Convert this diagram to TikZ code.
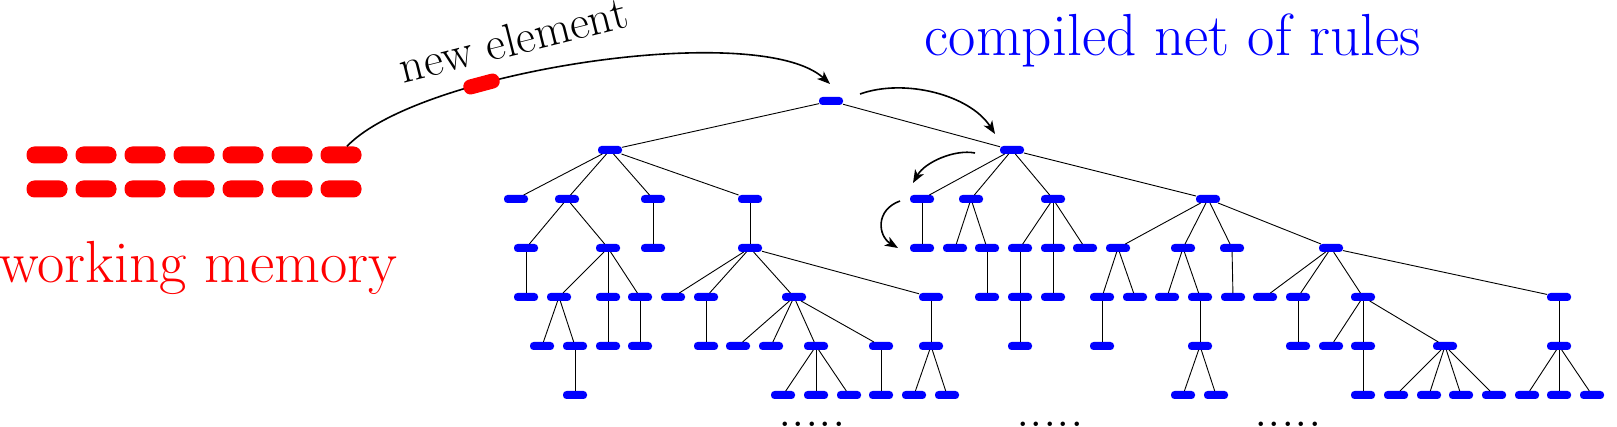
\documentclass[tikz,border=0pt]{standalone}
\usetikzlibrary{arrows.meta,calc}
\tikzset{
  tn/.style={fill=blue, draw=none, rounded corners=3.5pt, minimum width=24pt, minimum height=8pt, inner sep=0pt, outer sep=0pt},
  wm/.style={fill=red, draw=none, rounded corners=8pt, minimum width=41pt, minimum height=17pt, inner sep=0pt},
  tedge/.style={line width=0.9pt},
  flow/.style={line width=1.6pt, -{Stealth[length=13pt,width=10pt,inset=3.5pt]}},
  bigtext/.style={inner sep=0pt, font=\fontsize{59.4}{64}\selectfont},
  dotstext/.style={inner sep=0pt, font=\fontsize{54}{60}\selectfont},
}
\begin{document}
\begin{tikzpicture}[x=1pt,y=-1pt]
\useasboundingbox (0,0) rectangle (1617,427);
% working memory
\foreach \i/\x in {1/47,2/96,3/145,4/194,5/243,6/292,7/341}{
  \node[wm] (m\i) at (\x,155) {};
  \node[wm] (n\i) at (\x,189) {};
}
\node[bigtext, text=red, anchor=base west] (wmlabel) at (-1,283) {working memory};
\node[bigtext, text=blue, anchor=base west] (netlabel) at (924.5,56) {compiled net of rules};
\node[inner sep=0pt, font=\fontsize{47}{52}\selectfont, rotate=14, anchor=base] (newlabel) at (517,55) {new element};
% tree nodes
\node[tn] (r) at (831,101) {};
\foreach \n/\x in {a/610,b/1012}{\node[tn] (\n) at (\x,150) {};}
\foreach \n/\x in {a1/516,a2/567,a3/653,a4/750,b1/922,b2/971,b3/1053,b4/1208}{\node[tn] (\n) at (\x,199) {};}
\foreach \n/\x in {a21/526,a22/608,a31/653,a41/750,b11/922,b21/955,b22/987,b31/1020,b32/1053,b33/1085,b41/1118,b42/1183,b43/1232,b44/1331}{\node[tn] (\n) at (\x,248) {};}
\foreach \n/\x in {a211/526,a221/559,a222/608,a223/640,a411/673,a412/706,a413/794,a414/931,b221/987,b311/1020,b321/1053,b411/1102,b412/1135,b421/1167,b422/1200,b431/1233,b441/1265,b442/1298,b443/1363,b444/1559}{\node[tn] (\n) at (\x,297) {};}
\foreach \n/\x in {c1/542,c2/575,c3/608,c4/640,c5/706,c6/738,c7/771,c8/816,c9/881,c10/931,c11/1020,c12/1102,c13/1200,c14/1298,c15/1331,c16/1363,c17/1445,c18/1559}{\node[tn] (\n) at (\x,346) {};}
\foreach \n/\x in {d1/575,d2/783,d3/816,d4/849,d5/881,d6/914,d7/947,d8/1183,d9/1216,d10/1363,d11/1396,d12/1429,d13/1461,d14/1494,d15/1527,d16/1559,d17/1592}{\node[tn] (\n) at (\x,395) {};}
% tree edges
\foreach \p/\c in {r/a,r/b,a/a1,a/a2,a/a3,a/a4,b/b1,b/b2,b/b3,b/b4,
  a2/a21,a2/a22,a3/a31,a4/a41,b1/b11,b2/b21,b2/b22,b3/b31,b3/b32,b3/b33,b4/b41,b4/b42,b4/b43,b4/b44,
  a21/a211,a22/a221,a22/a222,a22/a223,a41/a411,a41/a412,a41/a413,a41/a414,
  b22/b221,b31/b311,b32/b321,b41/b411,b41/b412,b42/b421,b42/b422,b43/b431,b44/b441,b44/b442,b44/b443,b44/b444,
  a221/c1,a221/c2,a222/c3,a223/c4,a412/c5,a413/c6,a413/c7,a413/c8,a413/c9,a414/c10,b311/c11,b411/c12,b422/c13,b442/c14,b443/c15,b443/c16,b443/c17,b444/c18,
  c2/d1,c8/d2,c8/d3,c8/d4,c9/d5,c10/d6,c10/d7,c13/d8,c13/d9,c16/d10,c17/d11,c17/d12,c17/d13,c17/d14,c18/d15,c18/d16,c18/d17}{
  \draw[tedge] (\p) -- (\c);
}
% dots
\foreach \x/\nm in {812/dotsA,1050/dotsB,1288/dotsC}{
  \node[dotstext, anchor=base] (\nm) at (\x,426.6) {.....};
}
% flow arrows
\coordinate (rin) at ($(r)+(-1,-17)$);
\draw[flow] ([xshift=6pt]m7.north) .. controls (420,70) and (760,20) .. (rin)
  node[wm, sloped, pos=0.32, minimum width=37pt, minimum height=15pt, rounded corners=7pt] (moving) {};
\coordinate (s2) at ($(r)+(29,-7)$);
\coordinate (e2) at ($(b)+(-17,-16)$);
\draw[flow] (s2) .. controls (905,78) and (970,95) .. (e2);
\coordinate (s3) at ($(b)+(-37,3)$);
\coordinate (e3) at ($(b1)+(-9,-16)$);
\draw[flow] (s3) .. controls (955,149) and (925,162) .. (e3);
\coordinate (s4) at ($(b1)+(-22,2)$);
\coordinate (e4) at ($(b11)+(-24,0)$);
\draw[flow] (s4) .. controls (875,210) and (878,236) .. (e4);
\end{tikzpicture}
\end{document}
